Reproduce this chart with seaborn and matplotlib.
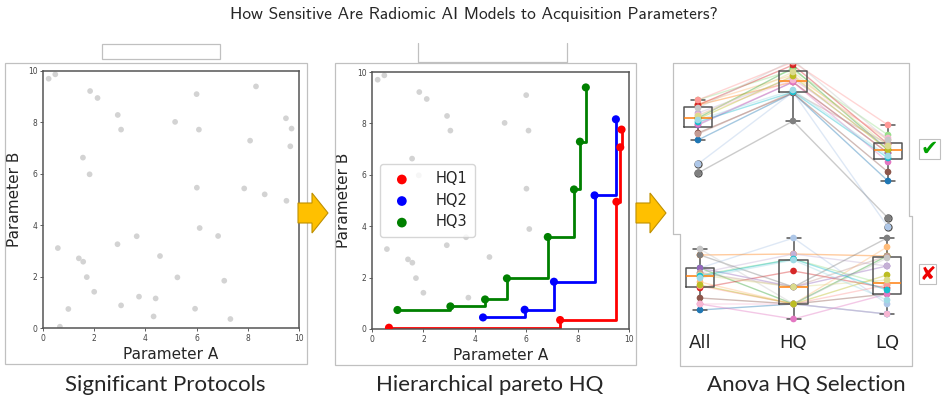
import numpy as np
import pandas as pd
import matplotlib
matplotlib.use('Agg')
import matplotlib.pyplot as plt
import seaborn as sns
from matplotlib.patches import FancyArrow, Rectangle

sns.set_style('white')

# protocol cloud (panel 1 and 2)
param_a = [0.22, 0.48, 1.84, 2.13, 2.92, 3.05, 1.56, 1.82, 5.16, 6.00, 6.09, 8.32, 8.09, 9.49,
           9.71, 9.66, 6.01, 7.86, 8.66, 9.51, 0.58, 2.91, 3.66, 6.12, 6.84, 4.57, 1.40, 1.57,
           1.71, 5.25, 7.08, 2.00, 3.75, 4.40, 3.05, 0.99, 5.94, 4.32, 7.32, 0.66]
param_b = [9.70, 9.87, 9.22, 8.95, 8.29, 7.72, 6.63, 5.98, 8.02, 9.10, 7.72, 9.40, 7.29, 8.16,
           7.76, 7.07, 5.46, 5.43, 5.20, 4.95, 3.11, 3.26, 3.57, 3.89, 3.58, 2.80, 2.71, 2.58,
           1.98, 1.97, 1.84, 1.41, 1.22, 1.15, 0.88, 0.74, 0.75, 0.45, 0.35, 0.05]

# pareto fronts
hq1_a = [0.66, 7.32, 9.51, 9.66, 9.71]
hq1_b = [0.05, 0.35, 4.95, 7.07, 7.76]
hq2_a = [4.32, 5.94, 7.08, 8.66, 9.49]
hq2_b = [0.45, 0.75, 1.84, 5.20, 8.16]
hq3_a = [0.99, 3.05, 4.40, 5.25, 6.84, 7.86, 8.09, 8.32]
hq3_b = [0.74, 0.88, 1.15, 1.97, 3.58, 5.43, 7.29, 9.40]

# anova panel, one value per subject
groups = ['All', 'HQ', 'LQ']
good_all = [1.00, 0.76, 1.35, 1.36, 1.22, 1.40, 1.35, 1.40, 1.15, 1.27, 1.07, 1.06, 1.16, 1.25, 0.67, 1.32, 1.21, 1.24, 1.18, 1.20]
good_hq = [1.47, 1.48, 1.58, 1.65, 1.72, 1.70, 1.75, 1.78, 1.58, 1.62, 1.47, 1.48, 1.58, 1.60, 1.19, 1.80, 1.64, 1.68, 1.48, 1.50]
good_lq = [0.59, 0.13, 0.87, 1.00, 0.90, 1.05, 0.96, 1.15, 0.87, 0.92, 0.68, 0.96, 0.78, 1.02, 0.22, 1.00, 0.90, 0.94, 0.82, 0.84]
bad_all = [0.70, 1.12, 1.25, 0.98, 1.12, 1.05, 0.92, 0.94, 1.12, 1.07, 0.82, 1.07, 0.76, 0.76, 1.25, 1.31, 0.95, 1.05, 1.04, 1.02]
bad_hq = [0.76, 1.42, 1.26, 0.76, 0.76, 1.21, 1.09, 0.76, 0.93, 1.26, 0.76, 0.93, 0.61, 0.76, 0.93, 0.76, 0.76, 0.93, 1.21, 1.20]
bad_lq = [0.66, 0.76, 1.24, 1.33, 1.24, 0.95, 0.92, 0.95, 1.14, 1.14, 0.86, 1.24, 0.86, 0.66, 1.42, 1.22, 1.05, 1.00, 0.90, 0.80]

W, H = 947, 405
fig = plt.figure(figsize=(W / 100, H / 100), dpi=100)


def frac(x0, y0, x1, y1):
    return [x0 / W, 1 - y1 / H, (x1 - x0) / W, (y1 - y0) / H]


def protocol_axes(ax):
    sns.scatterplot(x=param_a, y=param_b, color='#d3d3d3', s=17, edgecolor='none', ax=ax, zorder=1)
    ax.set_xlim(0, 10)
    ax.set_ylim(0, 10)
    ax.set_xticks(range(0, 11, 2))
    ax.set_yticks(range(0, 11, 2))
    ax.tick_params(labelsize=5.5, length=2.5, width=0.6, colors='#444444', pad=1.5, bottom=True, left=True)
    for sp in ax.spines.values():
        sp.set_color('#555555')
        sp.set_linewidth(1.1)
    ax.set_xlabel('Parameter A', fontsize=11, labelpad=3)
    ax.set_ylabel('Parameter B', fontsize=11, labelpad=4)


ax1 = fig.add_axes(frac(43, 71, 299, 328))
protocol_axes(ax1)

ax2 = fig.add_axes(frac(372, 72, 629, 329))
protocol_axes(ax2)
fronts = [('HQ1', hq1_a, hq1_b, 'red'), ('HQ2', hq2_a, hq2_b, 'blue'), ('HQ3', hq3_a, hq3_b, 'green')]
for name, a, b, c in fronts:
    sns.lineplot(x=a, y=b, color=c, drawstyle='steps-post', lw=2, sort=False, estimator=None, ax=ax2, zorder=2)
    sns.scatterplot(x=a, y=b, color=c, s=34, edgecolor='none', label=name, ax=ax2, zorder=3)
ax2.legend(loc='upper left', bbox_to_anchor=(0.031, 0.642), borderaxespad=0, fontsize=10.5,
           markerscale=1.2, handletextpad=1.3, labelspacing=0.45, borderpad=0.5, edgecolor='#cccccc')


def long_table(all_v, hq_v, lq_v):
    n = len(all_v)
    return pd.DataFrame({'subject': ['s%d' % i for i in range(n)] * 3,
                         'group': ['All'] * n + ['HQ'] * n + ['LQ'] * n,
                         'value': all_v + hq_v + lq_v})


pal = sns.color_palette('tab20', 20)


def anova_axes(ax, df):
    sns.boxplot(data=df, x='group', y='value', order=groups, fill=False, color='#555555', width=0.3,
                linewidth=1.1, medianprops={'color': '#ff7f0e'},
                flierprops={'marker': 'o', 'markersize': 5, 'markerfacecolor': 'none', 'markeredgecolor': '#555555'},
                ax=ax)
    sns.lineplot(data=df, x='group', y='value', hue='subject', palette=pal, estimator=None, sort=False,
                 alpha=0.4, lw=1, legend=False, ax=ax, zorder=1)
    sns.stripplot(data=df, x='group', y='value', order=groups, hue='subject', palette=pal, jitter=False,
                  size=4.8, legend=False, ax=ax, zorder=3)
    ax.set_facecolor('none')
    for sp in ax.spines.values():
        sp.set_visible(False)
    ax.set_xlabel('')
    ax.set_ylabel('')
    ax.set_yticks([])


ax3 = fig.add_axes(frac(673, 63, 909, 234))
anova_axes(ax3, long_table(good_all, good_hq, good_lq))
ax3.set_xlim(-0.263, 2.221)
ax3.set_ylim(0.06, 1.77)
ax3.set_xticks([])

ax4 = fig.add_axes(frac(680, 234, 912, 326))
anova_axes(ax4, long_table(bad_all, bad_hq, bad_lq))
ax4.set_xlim(-0.214, 2.267)
ax4.set_ylim(0.54, 1.46)
ax4.tick_params(axis='x', length=0, labelsize=13, pad=6)

# overlay for frames and arrows
ov = fig.add_axes([0, 0, 1, 1], zorder=5)
ov.set_xlim(0, W)
ov.set_ylim(H, 0)
ov.axis('off')
ov.patch.set_alpha(0)
edge = '#c0c0c0'
ov.add_patch(Rectangle((5, 63), 302, 301, fill=False, ec=edge, lw=0.9))
ov.add_patch(Rectangle((335, 63), 301, 302, fill=False, ec=edge, lw=0.9))
ov.plot([673, 673, 909, 909, 912, 912, 680, 680, 673], [234, 63, 63, 216, 216, 366, 366, 234, 234], color=edge, lw=0.9)
ov.add_patch(Rectangle((102, 44), 118, 15, fill=False, ec=edge, lw=0.9))
ov.plot([418, 418, 567, 567], [43, 62, 62, 43], color=edge, lw=0.9)
for x0 in [298, 636]:
    ov.add_patch(FancyArrow(x0, 213, 30, 0, width=20, head_width=40, head_length=16,
                            length_includes_head=True, fc='#ffc000', ec='#bf9000', lw=0.8))
ov.add_patch(Rectangle((919, 139), 21, 20, fill=False, ec=edge, lw=0.8))
ov.text(929.5, 149, '\u2714', color='#00a000', fontsize=15, ha='center', va='center')
ov.add_patch(Rectangle((919, 264), 17, 20, fill=False, ec=edge, lw=0.8))
ov.text(927.5, 274, '\u2718', color='#ee0000', fontsize=14, ha='center', va='center')

fig.text(0.5, 1 - 14 / H, 'How Sensitive Are Radiomic AI Models to Acquisition Parameters?',
         family='cmss10', fontsize=12.5, ha='center', va='center')
for x, t in [(165, 'Significant Protocols'), (490, 'Hierarchical pareto HQ'), (806, 'Anova HQ Selection')]:
    fig.text(x / W, 1 - 385 / H, t, family='Lato', fontsize=16, ha='center', va='center')

fig.savefig('out.png', dpi=100)
